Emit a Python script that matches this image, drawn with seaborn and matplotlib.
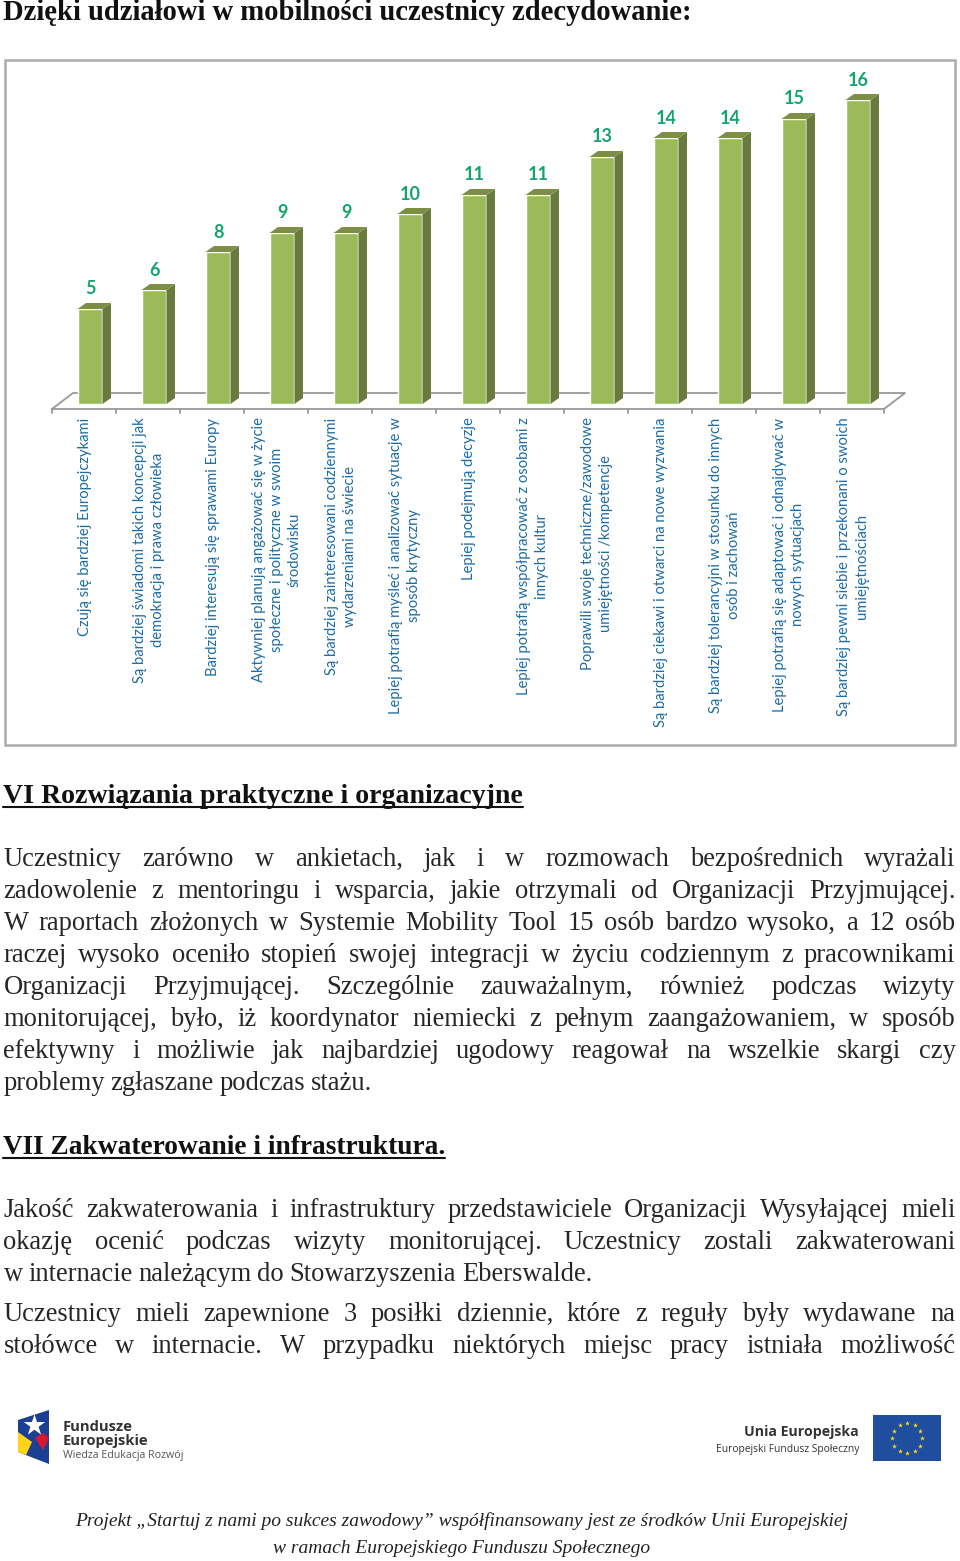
import numpy as np
import matplotlib
matplotlib.use('Agg')
import matplotlib.pyplot as plt
from matplotlib.patches import Polygon, Rectangle
import seaborn as sns

values = [5, 6, 8, 9, 9, 10, 11, 11, 13, 14, 14, 15, 16]
categories = [
    'Czują się bardziej Europejczykami',
    'Są bardziej świadomi takich koncepcji jak\ndemokracja i prawa człowieka',
    'Bardziej interesują się sprawami Europy',
    'Aktywniej planują angażować się w życie\nspołeczne i polityczne w swoim\nśrodowisku',
    'Są bardziej zainteresowani codziennymi\nwydarzeniami na świecie',
    'Lepiej potrafią myśleć i analizować sytuacje w\nsposób krytyczny',
    'Lepiej podejmują decyzje',
    'Lepiej potrafią współpracować z osobami z\ninnych kultur',
    'Poprawili swoje techniczne/zawodowe\numiejętności /kompetencje',
    'Są bardziej ciekawi i otwarci na nowe wyzwania',
    'Są bardziej tolerancyjni w stosunku do innych\nosób i zachowań',
    'Lepiej potrafią się adaptować i odnajdywać w\nnowych sytuacjach',
    'Są bardziej pewni siebie i przekonani o swoich\numiejętnościach',
]

title = 'Dzięki udziałowi w mobilności uczestnicy zdecydowanie:'
heading_6 = 'VI Rozwiązania praktyczne i organizacyjne'
heading_7 = 'VII Zakwaterowanie i infrastruktura.'
para_1 = [
    'Uczestnicy zarówno w ankietach, jak i w rozmowach bezpośrednich wyrażali',
    'zadowolenie z mentoringu i wsparcia, jakie otrzymali od Organizacji Przyjmującej.',
    'W raportach złożonych w Systemie Mobility Tool 15 osób bardzo wysoko, a 12 osób',
    'raczej wysoko oceniło stopień swojej integracji w życiu codziennym z pracownikami',
    'Organizacji Przyjmującej. Szczególnie zauważalnym, również podczas wizyty',
    'monitorującej, było, iż koordynator niemiecki z pełnym zaangażowaniem, w sposób',
    'efektywny i możliwie jak najbardziej ugodowy reagował na wszelkie skargi czy',
    'problemy zgłaszane podczas stażu.',
]
para_2 = [
    'Jakość zakwaterowania i infrastruktury przedstawiciele Organizacji Wysyłającej mieli',
    'okazję ocenić podczas wizyty monitorującej. Uczestnicy zostali zakwaterowani',
    'w internacie należącym do Stowarzyszenia Eberswalde.',
]
para_3 = [
    'Uczestnicy mieli zapewnione 3 posiłki dziennie, które z reguły były wydawane na',
    'stołówce w internacie. W przypadku niektórych miejsc pracy istniała możliwość',
]
footer = [
    'Projekt „Startuj z nami po sukces zawodowy” współfinansowany jest ze środków Unii Europejskiej',
    'w ramach Europejskiego Funduszu Społecznego',
]

FRONT = '#9BBB59'
SIDE = '#687A3C'
TOP = '#7C8F45'
SERIF = 'Liberation Serif'
BODY = 19.1

sns.set_theme(style='white')
plt.rcParams['font.family'] = ['Liberation Serif', 'DejaVu Sans']

fig = plt.figure(figsize=(9.6, 15.61), dpi=100)

# whole page in pixels, text and frame go here
page = fig.add_axes([0, 0, 1, 1], zorder=0)
page.set_xlim(0, 960)
page.set_ylim(1561, 0)
page.axis('off')
renderer = fig.canvas.get_renderer()


def put_line(line, y, justify=True):
    words = line.split(' ')
    items = [page.text(0, y, w, fontsize=BODY, family=SERIF, color='#262626', va='baseline') for w in words]
    widths = [t.get_window_extent(renderer).width for t in items]
    gap = (952 - sum(widths)) / (len(words) - 1) if justify else BODY * 0.3
    x = 3.5
    for t, w in zip(items, widths):
        t.set_x(x)
        x += w + gap


def put_heading(text, y, size):
    t = page.text(3, y, text, fontsize=size, family=SERIF, weight='bold', color='#111111', va='baseline')
    w = t.get_window_extent(renderer).width
    page.plot([3, 3 + w], [y + 4, y + 4], color='#111111', lw=1.5)


# chart frame and floor
page.add_patch(Rectangle((5, 60), 950, 685, fc='white', ec='#ABABAB', lw=1.8))
floor = '#999999'
page.plot([52, 884, 905, 73, 52], [409, 409, 393, 393, 409], color=floor, lw=1.3)
for i in range(len(values) + 1):
    page.plot([52 + 64 * i] * 2, [409, 413], color=floor, lw=1.3)

# bars
ax = fig.add_axes([58 / 960, (1561 - 404) / 1561, 832 / 960, 380 / 1561], zorder=2)
sns.barplot(x=categories, y=values, color=FRONT, saturation=1, width=0.39, ax=ax)
ax.set_xlim(-0.5, 12.5)
ax.set_ylim(0, 20)
ax.axis('off')

dx = 8.5 / 64
dy = 6 / 19
for i, bar in enumerate(list(ax.patches)):
    x0 = bar.get_x()
    x1 = x0 + bar.get_width()
    h = bar.get_height()
    ax.add_patch(Polygon([(x1, 0), (x1 + dx, dy), (x1 + dx, h + dy), (x1, h)], fc=SIDE, ec='none', clip_on=False))
    ax.add_patch(Polygon([(x0, h), (x0 + dx, h + dy), (x1 + dx, h + dy), (x1, h)], fc=TOP, ec='none', clip_on=False))
    ax.text(i, h + 20 / 19, str(values[i]), ha='center', va='center', fontsize=13, family='Lato',
            weight='bold', color='#14A56C', clip_on=False)
    ax.text(i - 5 / 64, -13.5 / 19, categories[i], rotation=90, ha='center', va='top', multialignment='center',
            fontsize=10.65, family='Lato', color='#1C6CA6', linespacing=1.34, clip_on=False)

# text of the page
page.text(3, 20, title, fontsize=20.6, family=SERIF, weight='bold', color='#111111', va='baseline')
put_heading(heading_6, 803, 20.1)
for k, line in enumerate(para_1):
    put_line(line, 866 + 32 * k, justify=k < len(para_1) - 1)
put_heading(heading_7, 1154, 19.7)
for k, line in enumerate(para_2):
    put_line(line, 1217 + 32 * k, justify=k < len(para_2) - 1)
for k, line in enumerate(para_3):
    put_line(line, 1321 + 32 * k)

# left logo
page.add_patch(Polygon([(18, 1420), (49, 1410), (49, 1464), (18, 1452)], fc='#1C3F94', ec='none'))
page.add_patch(Polygon([(18, 1452), (18, 1432), (32, 1442), (26, 1455)], fc='#FFD617', ec='none'))
page.add_patch(Polygon([(35, 1438), (43, 1433), (49, 1438), (43, 1450)], fc='#D9182D', ec='none'))
page.scatter([34], [1425], marker='*', s=260, color='white', linewidths=0)
page.text(63, 1431, 'Fundusze', fontsize=10.6, family='Open Sans', weight='bold', color='#333333')
page.text(63, 1445, 'Europejskie', fontsize=10.6, family='Open Sans', weight='bold', color='#333333')
page.text(63, 1458, 'Wiedza Edukacja Rozwój', fontsize=7.7, family='Open Sans', color='#555555')

# right logo
page.add_patch(Rectangle((873, 1415), 68, 46, fc='#1F4E9E', ec='none'))
angles = np.deg2rad(np.arange(0, 360, 30))
page.scatter(907 + 15 * np.cos(angles), 1438 + 15 * np.sin(angles), marker='*', s=14, color='#FFD617', linewidths=0)
page.text(859, 1436, 'Unia Europejska', fontsize=10.2, family='Open Sans', weight='bold', color='#333333', ha='right')
page.text(859, 1452, 'Europejski Fundusz Społeczny', fontsize=7.4, family='Open Sans', color='#333333', ha='right')

# footer
page.text(462, 1526, footer[0], fontsize=14, family=SERIF, style='italic', color='#222222', ha='center')
page.text(462, 1553, footer[1], fontsize=14, family=SERIF, style='italic', color='#222222', ha='center')

fig.savefig('out.png', dpi=100)
